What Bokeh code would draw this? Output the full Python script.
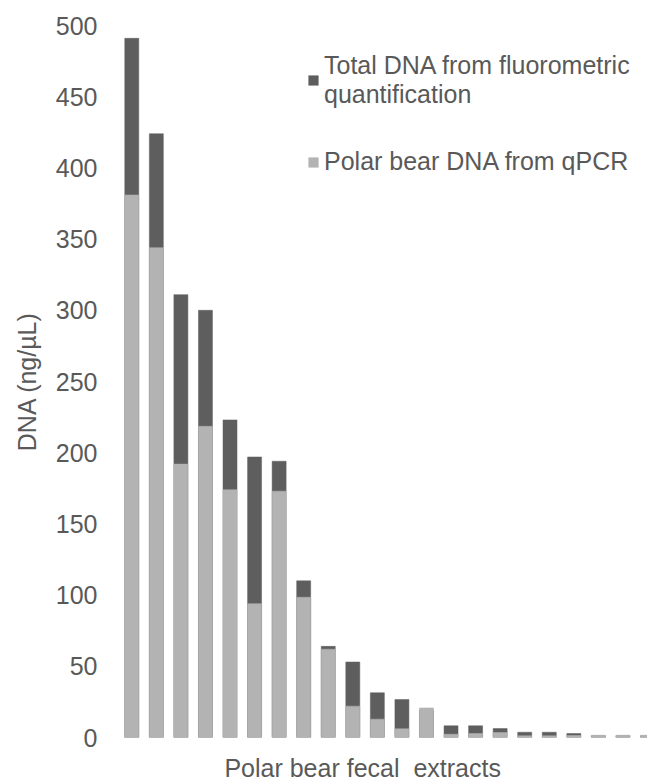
from bokeh.plotting import figure
from bokeh.models import ColumnDataSource, Range1d, Legend, LegendItem, FixedTicker
from bokeh.embed import file_html
from bokeh.resources import INLINE

# ---- data ----
samples = list(range(1, 23))
total_dna = [491, 424, 311, 300, 223, 197, 194, 110, 64, 53, 31.4, 26.7, 19,
             8.2, 8.2, 6.3, 3.7, 3.7, 2.8, 1.2, 1.2, 1.2]
polar_dna = [381, 344, 192, 218.5, 174, 94, 173, 98.5, 62, 22, 12.9, 6.1, 20.8,
             2.3, 2.8, 3.5, 1.2, 1.2, 1.4, 1.6, 1.6, 1.6]
y_ticks = [0, 50, 100, 150, 200, 250, 300, 350, 400, 450, 500]
series_names = ["Total DNA from fluorometric\nquantification", "Polar bear DNA from qPCR"]
x_title = "Polar bear fecal\u00a0 extracts"
y_title = "DNA (ng/\u00b5L)"

DARK = "#5e5e5e"
LIGHT = "#b3b3b3"
TEXT = "#595959"
FONT = "Liberation Sans"

src = ColumnDataSource(dict(x=samples, total=total_dna, polar=polar_dna))

p = figure(width=647, height=784, output_backend="svg", toolbar_location=None,
           x_range=Range1d(0.5, 22.0), y_range=Range1d(0, 500),
           min_border_left=119, min_border_right=0, min_border_top=25,
           min_border_bottom=47)
p.outline_line_color = None
p.background_fill_color = "white"
p.border_fill_color = "white"
p.grid.visible = False

r_total = p.vbar(x="x", top="total", width=0.57, source=src,
                 fill_color=DARK, line_color=DARK, line_width=0.5)
r_polar = p.vbar(x="x", top="polar", width=0.57, source=src,
                 fill_color=LIGHT, line_color=LIGHT, line_width=0.5)

# y axis
yax = p.yaxis[0]
yax.ticker = FixedTicker(ticks=y_ticks)
yax.axis_line_color = None
yax.major_tick_line_color = None
yax.minor_tick_line_color = None
yax.major_tick_out = 0
yax.major_label_standoff = 22
yax.major_label_text_font = FONT
yax.major_label_text_font_size = "25px"
yax.major_label_text_color = TEXT
yax.axis_label = y_title
yax.axis_label_text_font = FONT
yax.axis_label_text_font_size = "25px"
yax.axis_label_text_font_style = "normal"
yax.axis_label_text_color = TEXT
yax.axis_label_standoff = 12

# x axis: no ticks, labels or line; only its title.
# The reference's title sits left of the visible frame centre, so the
# title carries trailing no-break spaces to move its centre.
xax = p.xaxis[0]
xax.ticker = FixedTicker(ticks=[])
xax.axis_line_color = None
xax.major_tick_line_color = None
xax.minor_tick_line_color = None
xax.major_tick_out = 0
xax.axis_label = x_title + "\u00a0" * 6
xax.axis_label_text_font = FONT
xax.axis_label_text_font_size = "25px"
xax.axis_label_text_font_style = "normal"
xax.axis_label_text_color = TEXT
xax.axis_label_standoff = 16

legend = Legend(items=[LegendItem(label=series_names[0], renderers=[r_total]),
                       LegendItem(label=series_names[1], renderers=[r_polar])],
                location=(188, 561))
legend.label_text_font = FONT
legend.label_text_font_size = "25px"
legend.label_text_color = TEXT
legend.glyph_width = 12
legend.glyph_height = 12
legend.label_standoff = 5
legend.spacing = 38
legend.padding = 0
legend.margin = 0
legend.border_line_color = None
legend.background_fill_alpha = 0
p.add_layout(legend)

open("out.html", "w").write(file_html(p, INLINE))
